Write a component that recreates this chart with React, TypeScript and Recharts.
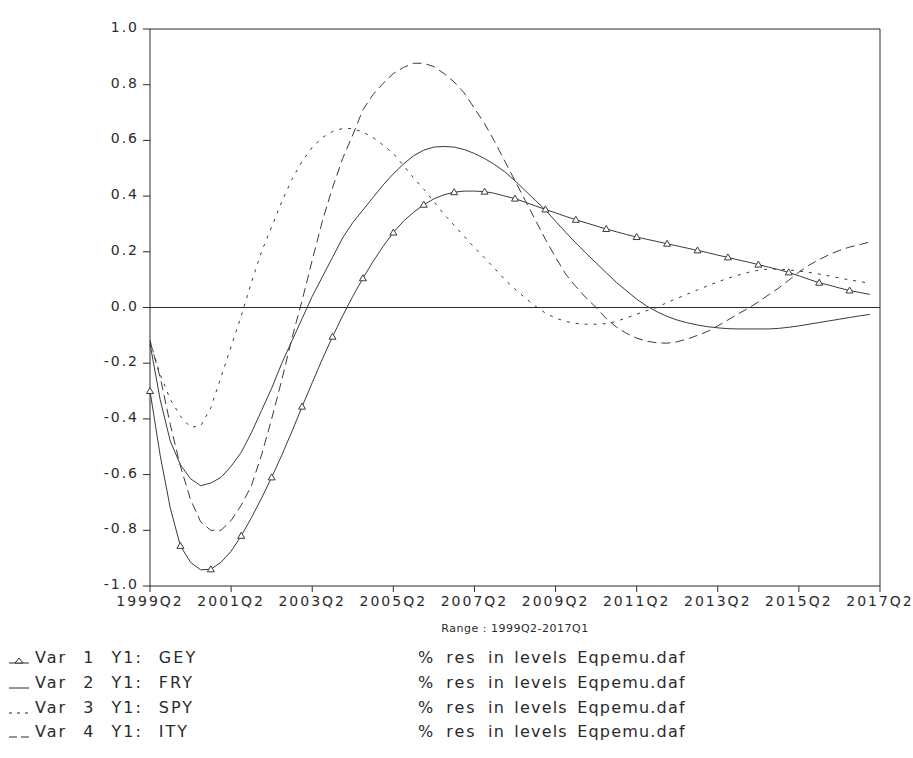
import React from "react";
import { LineChart, Line, XAxis, YAxis, ReferenceLine } from "recharts";

// Quarterly residual responses, 1999Q2 .. 2017Q1 (72 quarters)
const START_YEAR = 1999;
const START_QUARTER = 2;

const gey = [
  -0.30, -0.53, -0.72, -0.856, -0.915, -0.942, -0.94, -0.915, -0.875, -0.82,
  -0.755, -0.685, -0.61, -0.53, -0.445, -0.356, -0.27, -0.185, -0.105, -0.03,
  0.04, 0.105, 0.165, 0.22, 0.269, 0.31, 0.342, 0.369, 0.39, 0.405,
  0.414, 0.418, 0.418, 0.416, 0.41, 0.40, 0.391, 0.378, 0.365, 0.352,
  0.34, 0.327, 0.315, 0.304, 0.293, 0.282, 0.272, 0.262, 0.253, 0.245,
  0.237, 0.229, 0.221, 0.213, 0.205, 0.197, 0.188, 0.18, 0.171, 0.163,
  0.154, 0.145, 0.136, 0.126, 0.114, 0.101, 0.089, 0.08, 0.07, 0.061,
  0.054, 0.047,
];

const fry = [
  -0.13, -0.33, -0.48, -0.565, -0.615, -0.64, -0.63, -0.61, -0.57, -0.52,
  -0.45, -0.37, -0.29, -0.20, -0.12, -0.04, 0.04, 0.11, 0.18, 0.25,
  0.305, 0.35, 0.395, 0.44, 0.48, 0.515, 0.545, 0.565, 0.576, 0.578,
  0.576, 0.567, 0.553, 0.535, 0.513, 0.487, 0.455, 0.42, 0.385, 0.35,
  0.31, 0.27, 0.232, 0.195, 0.16, 0.125, 0.09, 0.06, 0.03, 0.005,
  -0.015, -0.032, -0.045, -0.055, -0.063, -0.069, -0.073, -0.076, -0.077, -0.077,
  -0.077, -0.077, -0.075, -0.071, -0.066, -0.06, -0.054, -0.048, -0.042, -0.036,
  -0.03, -0.025,
];

const spy = [
  -0.12, -0.24, -0.33, -0.39, -0.43, -0.425, -0.36, -0.25, -0.14, -0.03,
  0.09, 0.20, 0.29, 0.38, 0.46, 0.525, 0.575, 0.61, 0.632, 0.643,
  0.642, 0.63, 0.61, 0.583, 0.553, 0.51, 0.465, 0.425, 0.38, 0.335,
  0.295, 0.255, 0.215, 0.178, 0.14, 0.10, 0.066, 0.035, 0.005, -0.02,
  -0.038, -0.05, -0.057, -0.06, -0.06, -0.058, -0.05, -0.037, -0.024, -0.011,
  0.0, 0.018, 0.033, 0.048, 0.063, 0.078, 0.092, 0.105, 0.116, 0.126,
  0.134, 0.138, 0.138, 0.135, 0.131, 0.126, 0.12, 0.113, 0.106, 0.099,
  0.093, 0.087,
];

const ity = [
  -0.12, -0.25, -0.42, -0.57, -0.69, -0.77, -0.80, -0.80, -0.765, -0.71,
  -0.64, -0.53, -0.40, -0.26, -0.11, 0.025, 0.17, 0.31, 0.43, 0.535,
  0.62, 0.71, 0.765, 0.805, 0.84, 0.862, 0.877, 0.877, 0.865, 0.84,
  0.81, 0.77, 0.715, 0.66, 0.595, 0.525, 0.455, 0.385, 0.315, 0.245,
  0.18, 0.12, 0.075, 0.035, 0.0, -0.04, -0.07, -0.093, -0.11, -0.121,
  -0.127, -0.128, -0.123, -0.113, -0.10, -0.086, -0.066, -0.045, -0.023, -0.003,
  0.02, 0.045, 0.07, 0.098, 0.127, 0.152, 0.172, 0.19, 0.205, 0.217,
  0.226, 0.235,
];

const xTicks = [0, 8, 16, 24, 32, 40, 48, 56, 64, 72];
const xTickLabels = [
  "1999Q2", "2001Q2", "2003Q2", "2005Q2", "2007Q2",
  "2009Q2", "2011Q2", "2013Q2", "2015Q2", "2017Q2",
];
const yTicks = [-1.0, -0.8, -0.6, -0.4, -0.2, 0.0, 0.2, 0.4, 0.6, 0.8, 1.0];

const rangeLabel = "Range : 1999Q2-2017Q1";
const legendRows = [
  { name: "Var 1 Y1: GEY", kind: "triangle" },
  { name: "Var 2 Y1: FRY", kind: "solid" },
  { name: "Var 3 Y1: SPY", kind: "dotted" },
  { name: "Var 4 Y1: ITY", kind: "dashed" },
];
const legendUnit = "% res";
const legendSource = "in levels Eqpemu.daf";

function quarterName(i: number): string {
  const q0 = START_QUARTER - 1 + i;
  return `${START_YEAR + Math.floor(q0 / 4)}Q${(q0 % 4) + 1}`;
}

const data = gey.map((_, i) => ({
  t: i,
  q: quarterName(i),
  gey: gey[i],
  fry: fry[i],
  spy: spy[i],
  ity: ity[i],
}));

const INK = "#2b2b2b";
const LINE = "#3a3a3a";
const FONT = "'DejaVu Sans', sans-serif";

const tickStyle = {
  fontFamily: FONT,
  fontSize: 14,
  fill: INK,
  letterSpacing: 2,
};

// Y tick labels sit a touch above their tick marks
function YTick(props: any) {
  const { x, y, payload } = props;
  return (
    <text
      x={x}
      y={y - 2}
      textAnchor="end"
      dominantBaseline="central"
      fontFamily={FONT}
      fontSize={14}
      fill={INK}
      letterSpacing={2}
    >
      {Number(payload.value).toFixed(1)}
    </text>
  );
}

function TriangleDot(props: any) {
  const { cx, cy, index } = props;
  if (index % 3 !== 0 || cx == null || cy == null) {
    return <g key={`d-${index}`} />;
  }
  return (
    <path
      key={`d-${index}`}
      d={`M${cx},${cy - 3.5} L${cx + 3.5},${cy + 2.5} L${cx - 3.5},${cy + 2.5} Z`}
      fill="#fff"
      stroke={LINE}
      strokeWidth={1}
    />
  );
}

function LegendSample({ kind, y }: { kind: string; y: number }) {
  const x0 = 9;
  const x1 = 29;
  if (kind === "triangle") {
    return (
      <g>
        <line x1={x0} x2={x1} y1={y} y2={y} stroke={INK} strokeWidth={1} />
        <path d={`M19,${y - 5} L23,${y} L15,${y} Z`} fill="#fff" stroke={INK} />
      </g>
    );
  }
  if (kind === "solid") {
    return <line x1={x0} x2={x1} y1={y} y2={y} stroke={INK} strokeWidth={1} />;
  }
  if (kind === "dotted") {
    return (
      <line x1={x0} x2={x1} y1={y} y2={y} stroke={INK} strokeWidth={1} strokeDasharray="3 5" />
    );
  }
  return (
    <line x1={x0} x2={x1} y1={y} y2={y} stroke={INK} strokeWidth={1} strokeDasharray="8 4" />
  );
}

export default function App() {
  const legendY = [663, 688, 713, 737];
  return (
    <div
      style={{
        position: "absolute",
        left: 0,
        top: 0,
        width: 913,
        height: 758,
        background: "#fff",
        overflow: "hidden",
      }}
    >
      <LineChart
        width={913}
        height={620}
        data={data}
        margin={{ top: 29, right: 33, bottom: 0, left: 0 }}
      >
        <XAxis
          dataKey="t"
          type="number"
          domain={[0, 72]}
          ticks={xTicks}
          tickFormatter={(v: number) => xTickLabels[xTicks.indexOf(v)] ?? ""}
          interval={0}
          height={34}
          tick={tickStyle}
          tickSize={6}
          tickMargin={4}
          axisLine={{ stroke: INK }}
          tickLine={{ stroke: INK }}
        />
        <YAxis
          type="number"
          domain={[-1, 1]}
          ticks={yTicks}
          interval={0}
          width={150}
          tick={YTick}
          tickSize={7}
          tickMargin={4}
          axisLine={{ stroke: INK }}
          tickLine={{ stroke: INK }}
        />
        <ReferenceLine y={0} stroke={INK} strokeWidth={1} />
        <ReferenceLine y={1} stroke={INK} strokeWidth={1} />
        <ReferenceLine x={72} stroke={INK} strokeWidth={1} />
        <Line
          dataKey="spy"
          type="linear"
          stroke={LINE}
          strokeWidth={1}
          strokeDasharray="3 6"
          dot={false}
          isAnimationActive={false}
        />
        <Line
          dataKey="ity"
          type="linear"
          stroke={LINE}
          strokeWidth={1}
          strokeDasharray="9 5"
          dot={false}
          isAnimationActive={false}
        />
        <Line
          dataKey="fry"
          type="linear"
          stroke={LINE}
          strokeWidth={1}
          dot={false}
          isAnimationActive={false}
        />
        <Line
          dataKey="gey"
          type="linear"
          stroke={LINE}
          strokeWidth={1}
          dot={TriangleDot}
          isAnimationActive={false}
        />
      </LineChart>
      <svg
        width={913}
        height={138}
        style={{ position: "absolute", left: 0, top: 620 }}
        viewBox="0 620 913 138"
      >
        <text
          x={515}
          y={632}
          textAnchor="middle"
          fontFamily={FONT}
          fontSize={11}
          fill={INK}
          letterSpacing={0.5}
        >
          {rangeLabel}
        </text>
        {legendRows.map((row, i) => (
          <g key={row.name}>
            <LegendSample kind={row.kind} y={legendY[i]} />
            <text
              x={35}
              y={legendY[i]}
              fontFamily={FONT}
              fontSize={16}
              fill={INK}
              letterSpacing={2}
              wordSpacing={9}
            >
              {row.name}
            </text>
            <text
              x={418}
              y={legendY[i]}
              fontFamily={FONT}
              fontSize={16}
              fill={INK}
              letterSpacing={2}
              wordSpacing={4}
            >
              {legendUnit}
            </text>
            <text
              x={488}
              y={legendY[i]}
              fontFamily={FONT}
              fontSize={16}
              fill={INK}
              letterSpacing={1.2}
              wordSpacing={3}
            >
              {legendSource}
            </text>
          </g>
        ))}
      </svg>
    </div>
  );
}
